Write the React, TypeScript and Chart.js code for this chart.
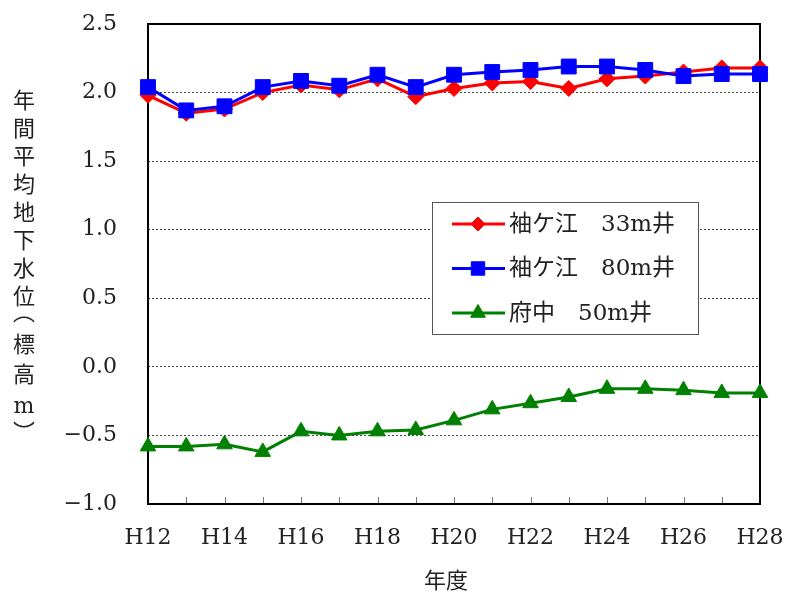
import React, { useEffect, useRef } from "react";
import { Chart, registerables } from "chart.js";

Chart.register(...registerables);

// ---- data ----
const categories = ["H12", "H13", "H14", "H15", "H16", "H17", "H18", "H19", "H20", "H21", "H22", "H23", "H24", "H25", "H26", "H27", "H28"];
const sodegaura33 = [1.98, 1.85, 1.88, 2.0, 2.055, 2.02, 2.1, 1.97, 2.03, 2.07, 2.08, 2.03, 2.1, 2.12, 2.15, 2.18, 2.18];
const sodegaura80 = [2.04, 1.87, 1.9, 2.04, 2.085, 2.05, 2.13, 2.04, 2.13, 2.15, 2.165, 2.19, 2.19, 2.165, 2.12, 2.135, 2.135];
const fuchu50 = [-0.58, -0.58, -0.565, -0.62, -0.47, -0.5, -0.47, -0.46, -0.39, -0.31, -0.265, -0.22, -0.16, -0.16, -0.17, -0.19, -0.19];
const seriesLabels = ["袖ケ江　33m井", "袖ケ江　80m井", "府中　50m井"];
const yMin = -1.0;
const yMax = 2.5;
const yStep = 0.5;
const yTitleChars = ["年", "間", "平", "均", "地", "下", "水", "位", "︵", "標", "高", "m", "︶"];
const xTitle = "年度";

const FONT = '"DejaVu Serif", "Noto Sans CJK JP", serif';
const TEXT_COLOR = "#222";

function drawMarker(ctx: CanvasRenderingContext2D, style: string, x: number, y: number, r: number, color: string) {
  ctx.save();
  ctx.fillStyle = color;
  ctx.strokeStyle = color;
  ctx.lineWidth = 1;
  ctx.beginPath();
  if (style === "rectRot") {
    ctx.moveTo(x - r, y);
    ctx.lineTo(x, y - r);
    ctx.lineTo(x + r, y);
    ctx.lineTo(x, y + r);
    ctx.closePath();
  } else if (style === "rect") {
    const s = r * Math.SQRT1_2;
    ctx.rect(x - s, y - s, 2 * s, 2 * s);
  } else {
    let rad = 0;
    ctx.moveTo(x + Math.sin(rad) * r, y - Math.cos(rad) * r);
    rad += (2 * Math.PI) / 3;
    ctx.lineTo(x + Math.sin(rad) * r, y - Math.cos(rad) * r);
    rad += (2 * Math.PI) / 3;
    ctx.lineTo(x + Math.sin(rad) * r, y - Math.cos(rad) * r);
    ctx.closePath();
  }
  ctx.fill();
  ctx.stroke();
  ctx.restore();
}

const overlayPlugin = {
  id: "overlay",
  beforeDatasetsDraw(chart: any) {
    const { ctx, chartArea } = chart;
    const xs = chart.scales.x;
    ctx.save();
    // inward tick marks
    ctx.strokeStyle = "#777";
    ctx.lineWidth = 1;
    categories.forEach((_, i) => {
      const px = Math.round(xs.getPixelForValue(i)) + 0.5;
      ctx.beginPath();
      ctx.moveTo(px, chartArea.bottom);
      ctx.lineTo(px, chartArea.bottom - 7);
      ctx.stroke();
    });
    // frame
    ctx.strokeStyle = "#000";
    ctx.lineWidth = 2;
    ctx.strokeRect(chartArea.left, chartArea.top, chartArea.right - chartArea.left, chartArea.bottom - chartArea.top);
    ctx.restore();
  },
  afterDatasetsDraw(chart: any) {
    const { ctx } = chart;
    const bx = 432.5, by = 202.5, bw = 266, bh = 132;
    ctx.save();
    ctx.fillStyle = "#fff";
    ctx.fillRect(bx, by, bw, bh);
    ctx.strokeStyle = "#555";
    ctx.lineWidth = 1;
    ctx.strokeRect(bx, by, bw, bh);
    const sizes: Record<string, number> = { rectRot: 7, rect: 9.5, triangle: 8.5 };
    chart.data.datasets.forEach((ds: any, i: number) => {
      const y = by + 21.5 + i * 44.5;
      ctx.strokeStyle = ds.borderColor;
      ctx.lineWidth = 3;
      ctx.beginPath();
      ctx.moveTo(452, y);
      ctx.lineTo(505, y);
      ctx.stroke();
      drawMarker(ctx, ds.pointStyle, 478, y, sizes[ds.pointStyle] || 8, ds.borderColor);
      ctx.fillStyle = TEXT_COLOR;
      ctx.font = `23px ${FONT}`;
      ctx.textBaseline = "middle";
      ctx.textAlign = "left";
      ctx.fillText(ds.label, 509, y + 1);
    });
    ctx.restore();
  },
  afterDraw(chart: any) {
    const { ctx } = chart;
    ctx.save();
    ctx.fillStyle = TEXT_COLOR;
    ctx.textAlign = "center";
    ctx.textBaseline = "middle";
    ctx.font = `22px ${FONT}`;
    // vertical y-axis title, one character per row
    const x0 = 24;
    let y = 102;
    yTitleChars.forEach((ch, i) => {
      if (i > 0) {
        const prev = yTitleChars[i - 1];
        if (ch === "︵") y += 16;
        else if (prev === "︵") y += 32;
        else if (ch === "︶") y += 27;
        else y += 30.5;
        if (i < 8) y = 102 + i * 28;
      }
      ctx.fillText(ch, x0, y);
    });
    // x-axis title
    ctx.fillText(xTitle, 446, 582);
    ctx.restore();
  },
};

export default function App() {
  const canvasRef = useRef<HTMLCanvasElement | null>(null);

  useEffect(() => {
    if (!canvasRef.current) return;
    const chart = new Chart(canvasRef.current, {
      type: "line",
      data: {
        labels: categories,
        datasets: [
          {
            label: seriesLabels[0],
            data: sodegaura33,
            borderColor: "#ff0000",
            backgroundColor: "#ff0000",
            borderWidth: 3,
            pointStyle: "rectRot",
            pointRadius: 8,
            pointBorderWidth: 1,
            tension: 0,
            clip: false,
            order: 1,
          },
          {
            label: seriesLabels[1],
            data: sodegaura80,
            borderColor: "#0000ff",
            backgroundColor: "#0000ff",
            borderWidth: 3,
            pointStyle: "rect",
            pointRadius: 10.5,
            pointBorderWidth: 1,
            tension: 0,
            clip: false,
            order: 0,
          },
          {
            label: seriesLabels[2],
            data: fuchu50,
            borderColor: "#008000",
            backgroundColor: "#008000",
            borderWidth: 3,
            pointStyle: "triangle",
            pointRadius: 9,
            pointBorderWidth: 1,
            tension: 0,
            clip: false,
            order: 2,
          },
        ] as any,
      },
      options: {
        responsive: false,
        animation: false,
        devicePixelRatio: 1,
        layout: { padding: { top: 24, right: 25, left: 0, bottom: 0 } },
        plugins: {
          legend: { display: false },
          tooltip: { enabled: false },
          title: { display: false },
        },
        scales: {
          x: {
            type: "category",
            offset: false,
            grid: { display: false, drawTicks: false },
            border: { display: false },
            ticks: {
              autoSkip: false,
              maxRotation: 0,
              minRotation: 0,
              padding: 21,
              color: TEXT_COLOR,
              font: { family: FONT, size: 22 },
              callback: (_v: any, i: number) => (i % 2 === 0 ? categories[i] : ""),
            },
            afterFit: (s: any) => {
              s.height = 93;
              s.paddingLeft = 0;
              s.paddingRight = 0;
            },
          },
          y: {
            min: yMin,
            max: yMax,
            grid: {
              drawTicks: false,
              color: (c: any) =>
                c.tick && (c.tick.value === yMin || c.tick.value === yMax) ? "rgba(0,0,0,0)" : "#444",
              lineWidth: 1,
            },
            border: { display: false, dash: [2, 2] },
            ticks: {
              stepSize: yStep,
              padding: 31,
              color: TEXT_COLOR,
              font: { family: FONT, size: 22 },
              callback: (v: any) => (Number(v) < 0 ? "\u2212" : "") + Math.abs(Number(v)).toFixed(1),
            },
            afterFit: (s: any) => {
              s.width = 148;
              s.paddingTop = 0;
              s.paddingBottom = 0;
            },
          },
        },
      },
      plugins: [overlayPlugin],
    });
    return () => chart.destroy();
  }, []);

  return (
    <div style={{ position: "absolute", left: 0, top: 0, width: 785, height: 597, background: "#fff" }}>
      <canvas ref={canvasRef} width={785} height={597} />
    </div>
  );
}
